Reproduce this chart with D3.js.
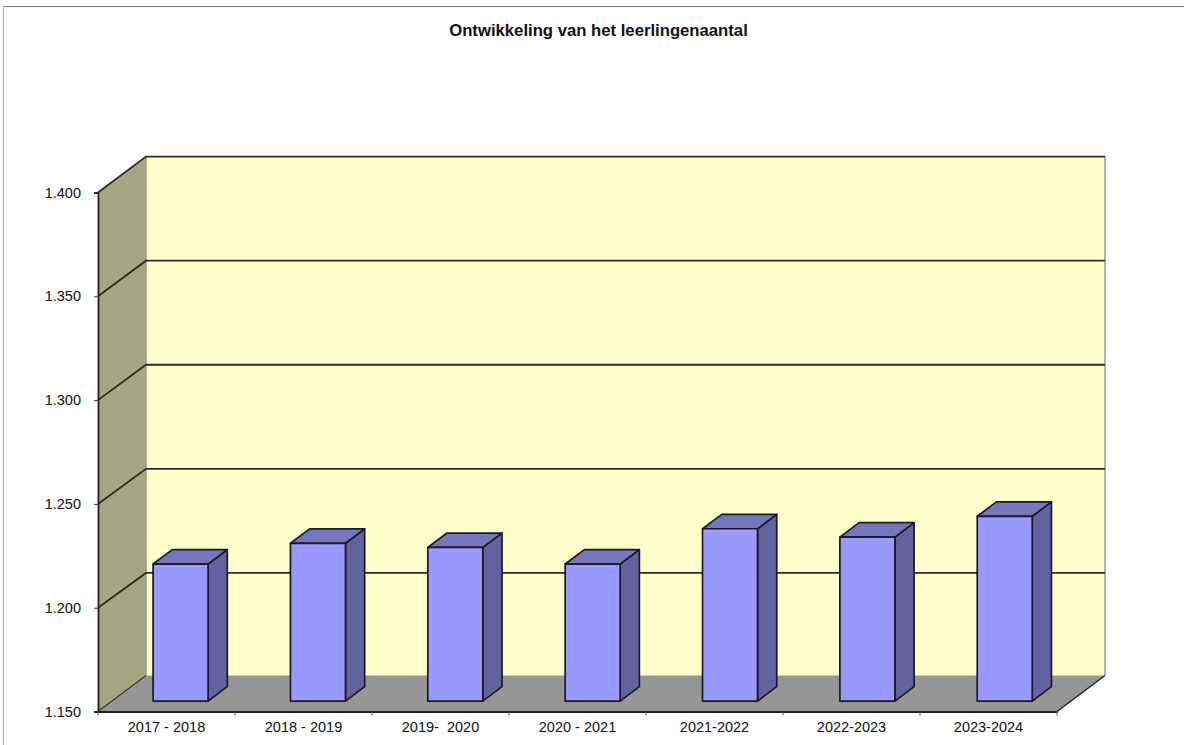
<!DOCTYPE html>
<html>
<head>
<meta charset="utf-8">
<title>Ontwikkeling van het leerlingenaantal</title>
<script src="https://cdn.jsdelivr.net/npm/d3@7"></script>
<style>
  html, body { margin: 0; padding: 0; background: #fff; }
  svg { display: block; }
  text { font-family: "Liberation Sans", Arial, sans-serif; fill: #111; white-space: pre; }
</style>
</head>
<body>
<div id="chart-container"></div>
<script>
var categories = ["2017 - 2018", "2018 - 2019", "2019-  2020", "2020 - 2021", "2021-2022", "2022-2023", "2023-2024"];
var leerlingen = [1216, 1226, 1224, 1216, 1233, 1229, 1239];
var yTicks = [1150, 1200, 1250, 1300, 1350, 1400];

var svgWidth = 1184;
var svgHeight = 745;

// front plane of the 3d box
var left = 98, right = 1057, bottom = 711.5, top_ = 192.5;
// full depth of the box, and where the bars stand in it
var depthX = 48, depthY = -36;
var barNear = 0.29, barFar = 0.69;
var barWidth = 55;

var svg = d3.select("#chart-container")
    .append("svg")
    .attr("width", svgWidth)
    .attr("height", svgHeight);

var x = d3.scaleBand()
    .domain(categories)
    .range([left, right]);

// the bars are spaced a little wider than the axis labels in the original
var xBars = d3.scaleBand()
    .domain(categories)
    .range([left, 1059.5]);

var y = d3.scaleLinear()
    .domain([1150, 1400])
    .range([bottom, top_]);

// gridlines on the back wall
var yBack = d3.scaleLinear()
    .domain([1150, 1400])
    .range([677, 156.6]);

var fmt = function(d) { return d3.format(",")(d).replace(",", "."); };

function poly(points, fill, stroke, w) {
    return svg.append("polygon")
        .attr("points", points.map(function(p) { return p.join(","); }).join(" "))
        .attr("fill", fill)
        .attr("stroke", stroke || "none")
        .attr("stroke-width", w || 0)
        .attr("stroke-linejoin", "round");
}

// outer border, only top and left are visible in the picture
svg.append("line")
    .attr("x1", 3.5).attr("x2", 1184).attr("y1", 6.5).attr("y2", 6.5)
    .attr("stroke", "#7a7a7a").attr("stroke-width", 1.2);
svg.append("line")
    .attr("x1", 3.5).attr("x2", 3.5).attr("y1", 6.5).attr("y2", 745)
    .attr("stroke", "#a8a8a8").attr("stroke-width", 1);

svg.append("text")
    .attr("x", 598.5)
    .attr("y", 35.5)
    .attr("text-anchor", "middle")
    .attr("font-size", 16.7)
    .attr("font-weight", "bold")
    .text("Ontwikkeling van het leerlingenaantal");

var backLeft = left + depthX, backRight = right + depthX;
var floorY = y(1150) + depthY;

// walls and floor
poly([[backLeft, yBack(1400)], [backRight, yBack(1400)], [backRight, floorY], [backLeft, floorY]], "#ffffcc");
poly([[left, y(1400)], [backLeft, yBack(1400)], [backLeft, floorY], [left, y(1150)]], "#a6a682");
poly([[left, y(1150)], [backLeft, floorY], [backRight, floorY], [right, y(1150)]], "#969696");

// light edges around the back wall
svg.append("path")
    .attr("d", "M" + backLeft + "," + floorY + "V" + yBack(1400))
    .attr("stroke", "#9a9a8a").attr("stroke-width", 1.5).attr("fill", "none");
svg.append("path")
    .attr("d", "M" + backRight + "," + yBack(1400) + "V" + floorY)
    .attr("stroke", "#9a9a9a").attr("stroke-width", 1.5).attr("fill", "none");

// gridlines, running along the side wall and over the back wall
yTicks.forEach(function(t) {
    if (t === 1150) return;
    svg.append("path")
        .attr("d", "M" + left + "," + y(t) + "L" + backLeft + "," + yBack(t) + "H" + backRight)
        .attr("fill", "none")
        .attr("stroke", "#2c2c24")
        .attr("stroke-width", 1.8);
});

// floor edges
svg.append("path")
    .attr("d", "M" + right + "," + y(1150) + "L" + backRight + "," + floorY)
    .attr("fill", "none")
    .attr("stroke", "#222")
    .attr("stroke-width", 1.5);
svg.append("path")
    .attr("d", "M" + left + "," + y(1150) + "L" + backLeft + "," + floorY)
    .attr("fill", "none")
    .attr("stroke", "#3a3a30")
    .attr("stroke-width", 1.2);

// left axis
svg.append("g")
    .attr("transform", "translate(" + left + ",0)")
    .call(d3.axisLeft(y).tickValues(yTicks).tickFormat(fmt).tickSize(4).tickPadding(13))
    .call(function(g) {
        g.select(".domain").attr("stroke", "#222").attr("stroke-width", 1.8);
        g.selectAll("line").attr("stroke", "#333");
        g.selectAll("text").attr("font-size", 14.5).attr("font-family", null).attr("fill", null);
    });

// bottom axis, ticks sit on the band edges
svg.append("g")
    .attr("transform", "translate(0," + bottom + ")")
    .call(d3.axisBottom(x).tickSize(0).tickPadding(10))
    .call(function(g) {
        g.select(".domain").attr("stroke", "#222").attr("stroke-width", 1.8);
        g.selectAll("text").attr("font-size", 14.5).attr("font-family", null).attr("fill", null);
    });
svg.append("g")
    .selectAll("line")
    .data(categories.concat(["end"]))
    .enter().append("line")
    .attr("x1", function(d, i) { return left + i * x.step(); })
    .attr("x2", function(d, i) { return left + i * x.step(); })
    .attr("y1", bottom)
    .attr("y2", bottom + 4)
    .attr("stroke", "#555");

// bars
categories.forEach(function(c, i) {
    var x0 = xBars(c) + xBars.bandwidth() / 2 - barWidth / 2 + depthX * barNear;
    var x1 = x0 + barWidth;
    var yBase = y(1150) + depthY * barNear;
    var yTop = y(leerlingen[i]) + depthY * barNear;
    var dx = depthX * (barFar - barNear);
    var dy = depthY * (barFar - barNear);

    poly([[x1, yTop], [x1 + dx, yTop + dy], [x1 + dx, yBase + dy], [x1, yBase]], "#62629f", "#1a1a22", 1.7);
    poly([[x0, yTop], [x0 + dx, yTop + dy], [x1 + dx, yTop + dy], [x1, yTop]], "#7676bd", "#1a1a22", 1.7);
    poly([[x0, yTop], [x1, yTop], [x1, yBase], [x0, yBase]], "#9999ff", "#1a1a22", 1.7);
});
</script>
</body>
</html>
